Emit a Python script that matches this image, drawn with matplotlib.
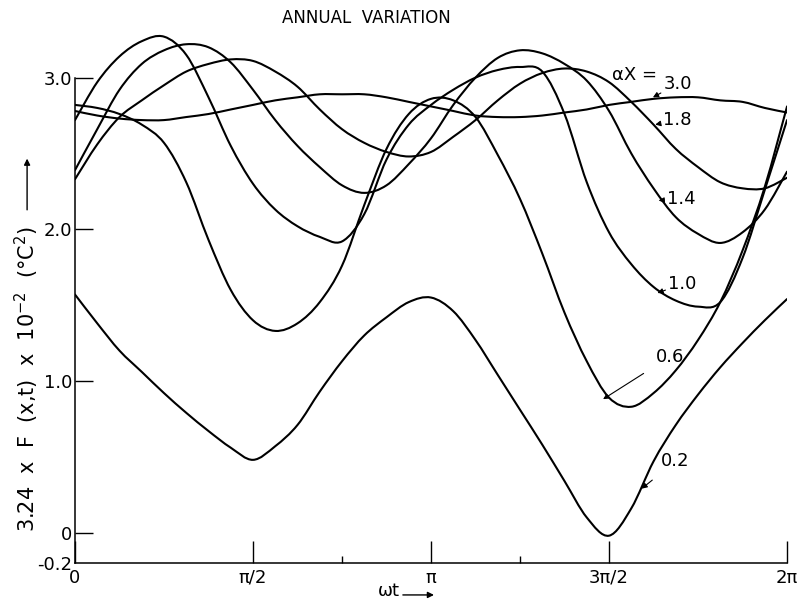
import numpy as np
import matplotlib.pyplot as plt
from matplotlib.path import Path
from matplotlib.patches import PathPatch, FancyArrowPatch

# sampling grid: omega*t from 0 to 2*pi in steps of pi/16
wt = np.linspace(0, 2 * np.pi, 33)

# 3.24 x F(x,t) x 1e-2 for each alpha*x
ax_02 = [1.57, 1.38, 1.20, 1.06, 0.92, 0.79, 0.67, 0.56, 0.48, 0.57, 0.71,
         0.93, 1.13, 1.30, 1.42, 1.52, 1.55, 1.46, 1.27, 1.04, 0.81, 0.58,
         0.34, 0.10, -0.02, 0.16, 0.47, 0.71, 0.91, 1.09, 1.25, 1.40, 1.54]
ax_06 = [2.82, 2.80, 2.76, 2.69, 2.57, 2.31, 1.93, 1.60, 1.40, 1.33, 1.38,
         1.52, 1.76, 2.16, 2.53, 2.76, 2.86, 2.85, 2.74, 2.49, 2.20, 1.84,
         1.45, 1.13, 0.89, 0.83, 0.92, 1.07, 1.27, 1.52, 1.86, 2.28, 2.81]
ax_10 = [2.72, 2.97, 3.14, 3.24, 3.27, 3.15, 2.87, 2.55, 2.30, 2.13, 2.02,
         1.95, 1.92, 2.10, 2.46, 2.69, 2.82, 2.92, 3.00, 3.05, 3.07, 3.04,
         2.76, 2.31, 1.98, 1.77, 1.62, 1.53, 1.49, 1.52, 1.81, 2.26, 2.72]
ax_14 = [2.39, 2.66, 2.92, 3.09, 3.18, 3.22, 3.20, 3.10, 2.92, 2.72, 2.55,
         2.41, 2.29, 2.24, 2.29, 2.43, 2.60, 2.82, 3.00, 3.13, 3.18, 3.16,
         3.09, 2.98, 2.78, 2.50, 2.27, 2.08, 1.97, 1.91, 1.98, 2.13, 2.38]
ax_18 = [2.33, 2.56, 2.74, 2.85, 2.95, 3.04, 3.09, 3.12, 3.11, 3.04, 2.94,
         2.79, 2.66, 2.57, 2.51, 2.48, 2.51, 2.61, 2.72, 2.85, 2.96, 3.03,
         3.06, 3.04, 2.97, 2.84, 2.69, 2.53, 2.41, 2.31, 2.27, 2.27, 2.34]
ax_30 = [2.78, 2.75, 2.73, 2.72, 2.72, 2.74, 2.76, 2.79, 2.82, 2.85, 2.87,
         2.89, 2.89, 2.89, 2.87, 2.84, 2.81, 2.78, 2.75, 2.74, 2.74, 2.75,
         2.77, 2.79, 2.82, 2.84, 2.86, 2.87, 2.87, 2.85, 2.84, 2.80, 2.77]

curves = [ax_02, ax_06, ax_10, ax_14, ax_18, ax_30]

xticks = [0, np.pi / 2, np.pi, 3 * np.pi / 2, 2 * np.pi]
xticklabels = ['0', 'π/2', 'π', '3π/2', '2π']
yticks = [0, 1.0, 2.0, 3.0]
yticklabels = ['0', '1.0', '2.0', '3.0']

# curve labels: text, text position, arrow tip
labels = [('3.0', (5.32, 2.96), (5.10, 2.87)),
          ('1.8', (5.31, 2.72), (5.12, 2.69)),
          ('1.4', (5.35, 2.20), (5.15, 2.19)),
          ('1.0', (5.36, 1.64), (5.14, 1.58)),
          ('0.6', (5.25, 1.16), (4.66, 0.88)),
          ('0.2', (5.30, 0.47), (5.00, 0.29))]


def smooth_path(x, y):
    # cubic (catmull-rom) bezier passing through every read point
    p = np.column_stack([x, y])
    n = len(p)
    verts = [p[0]]
    codes = [Path.MOVETO]
    for i in range(n - 1):
        p0 = p[max(i - 1, 0)]
        p3 = p[min(i + 2, n - 1)]
        c1 = p[i] + (p[i + 1] - p0) / 6
        c2 = p[i + 1] - (p3 - p[i]) / 6
        verts += [c1, c2, p[i + 1]]
        codes += [Path.CURVE4] * 3
    return Path(verts, codes)


fig = plt.figure(figsize=(7.97, 6.04), dpi=100)
ax = fig.add_axes([0.0941, 0.0679, 0.8934, 0.8915])

for c in curves:
    ax.add_patch(PathPatch(smooth_path(wt, c), fill=False, edgecolor='black',
                           lw=1.5, capstyle='round', joinstyle='round'))

ax.set_xlim(0, 2 * np.pi)
ax.set_ylim(-0.2, 3.35)

ax.spines['top'].set_visible(False)
ax.spines['right'].set_visible(False)
ax.spines['left'].set_bounds(-0.2, 3.0)
ax.spines['bottom'].set_bounds(0, 2 * np.pi)
for s in ['left', 'bottom']:
    ax.spines[s].set_linewidth(1.1)

ax.set_xticks(xticks)
ax.set_xticklabels(xticklabels, fontsize=13)
ax.set_xticks([3 * np.pi / 4, 5 * np.pi / 4], minor=True)
ax.set_yticks(yticks)
ax.set_yticklabels(yticklabels, fontsize=13)
ax.set_yticks([-0.2], minor=True)
ax.set_yticklabels(['-0.2'], minor=True, fontsize=13)

ax.tick_params(axis='x', which='major', direction='in', length=16, width=1, pad=4)
ax.tick_params(axis='x', which='minor', direction='in', length=5, width=1)
ax.tick_params(axis='y', which='major', direction='in', length=13, width=1, pad=2)
ax.tick_params(axis='y', which='minor', direction='in', length=0, pad=2)

for txt, pos, tip in labels:
    ax.annotate(txt, xy=tip, xytext=pos, fontsize=13, ha='center', va='center',
                arrowprops=dict(arrowstyle='-|>', color='black', lw=0.8,
                                mutation_scale=8, shrinkA=8, shrinkB=0))
ax.text(4.74, 3.02, 'αX =', fontsize=13, ha='left', va='center')

fig.text(0.46, 0.970, 'ANNUAL  VARIATION', fontsize=12, ha='center', va='center')

fig.text(0.034, 0.3725, '3.24  x  F  (x,t)  x  10$^{-2}$  (°C$^{2}$)', fontsize=15,
         rotation=90, ha='center', va='center')
fig.patches.append(FancyArrowPatch(
    (0.034, 0.648), (0.034, 0.742), transform=fig.transFigure,
    arrowstyle='-|>', mutation_scale=9, lw=1, color='black'))

fig.text(0.474, 0.022, 'ωt', fontsize=13, ha='left', va='center')
fig.patches.append(FancyArrowPatch(
    (0.502, 0.015), (0.548, 0.015), transform=fig.transFigure,
    arrowstyle='-|>', mutation_scale=9, lw=1, color='black'))

plt.savefig('out.png', dpi=100)
